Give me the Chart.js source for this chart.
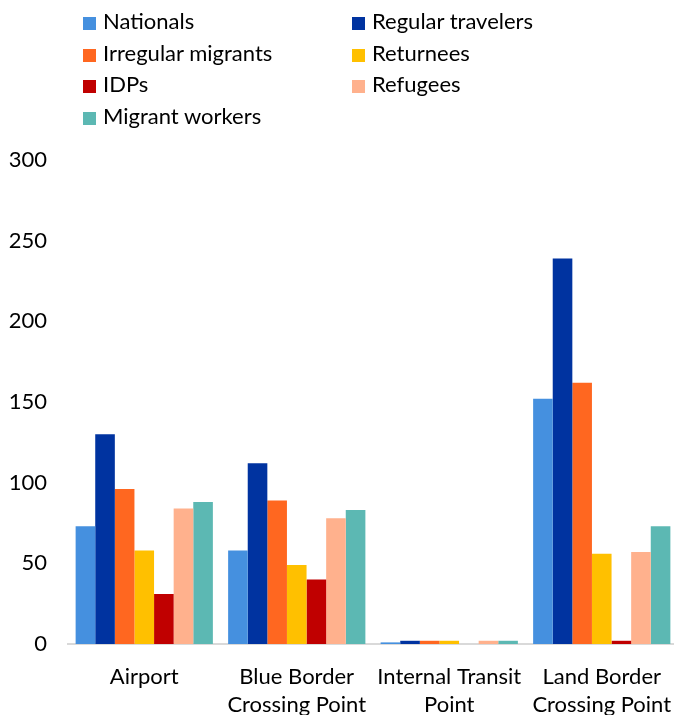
<!DOCTYPE html>
<html>
<head>
<meta charset="utf-8">
<script src="https://cdn.jsdelivr.net/npm/chart.js@4"></script>
<style>
  body { margin: 0; background: #fff; overflow: hidden; width: 674px; height: 715px; }
  #wrap { position: relative; width: 678px; height: 715px; }
  #legend { position: absolute; left: 0; top: 0; width: 674px; height: 140px; font-family: Lato, sans-serif; font-size: 22px; color: #000; }
  .item { position: absolute; height: 28px; line-height: 28px; white-space: nowrap; }
  .item span.box { display: inline-block; width: 13px; height: 13px; margin-right: 7px; vertical-align: -1px; }
</style>
</head>
<body>
<div id="wrap">
  <canvas id="chart" width="678" height="715"></canvas>
  <div id="legend"></div>
</div>
<script>
const categories = [
  "Airport",
  ["Blue Border", "Crossing Point"],
  ["Internal Transit", "Point"],
  ["Land Border", "Crossing Point"]
];
const seriesNames = ["Nationals", "Regular travelers", "Irregular migrants", "Returnees", "IDPs", "Refugees", "Migrant workers"];
const seriesColors = ["#4590DF", "#0033A0", "#FF6720", "#FFC000", "#C00000", "#FFB18D", "#5CB8B3"];

const nationals = [73, 58, 1, 152];
const regularTravelers = [130, 112, 2, 239];
const irregularMigrants = [96, 89, 2, 162];
const returnees = [58, 49, 2, 56];
const idps = [31, 40, 0, 2];
const refugees = [84, 78, 2, 57];
const migrantWorkers = [88, 83, 2, 73];

const seriesValues = [nationals, regularTravelers, irregularMigrants, returnees, idps, refugees, migrantWorkers];

// legend, two columns like the original
const legendBox = document.getElementById("legend");
const legendRows = [21, 53, 84, 116];
const legendCols = [83, 352];
seriesNames.forEach((name, i) => {
  const div = document.createElement("div");
  div.className = "item";
  div.style.left = legendCols[i % 2] + "px";
  div.style.top = (legendRows[Math.floor(i / 2)] - 14) + "px";
  div.innerHTML = '<span class="box" style="background:' + seriesColors[i] + '"></span>' + name;
  legendBox.appendChild(div);
});

const font = { family: "Lato, sans-serif", size: 22, lineHeight: 1.27 };

new Chart(document.getElementById("chart").getContext("2d"), {
  type: "bar",
  data: {
    labels: categories,
    datasets: seriesNames.map((name, i) => ({
      label: name,
      data: seriesValues[i],
      backgroundColor: seriesColors[i],
      borderWidth: 0,
      barPercentage: 1,
      categoryPercentage: 0.9
    }))
  },
  options: {
    responsive: false,
    animation: false,
    layout: { padding: { top: 160, right: 0, bottom: 0, left: 0 } },
    plugins: {
      legend: { display: false },
      tooltip: { enabled: false }
    },
    scales: {
      x: {
        grid: { display: false, drawTicks: false },
        border: { display: true, color: "#D9D9D9", width: 2 },
        ticks: { color: "#000", font: font, padding: 19, maxRotation: 0, autoSkip: false },
        afterFit: s => { s.height = 71; s.paddingLeft = 0; s.paddingRight = 0; }
      },
      y: {
        min: 0,
        max: 300,
        grid: { display: false, drawTicks: false },
        border: { display: false },
        ticks: { stepSize: 50, color: "#000", font: font, padding: 21 },
        afterFit: s => { s.width = 68; }
      }
    }
  }
});
</script>
</body>
</html>
